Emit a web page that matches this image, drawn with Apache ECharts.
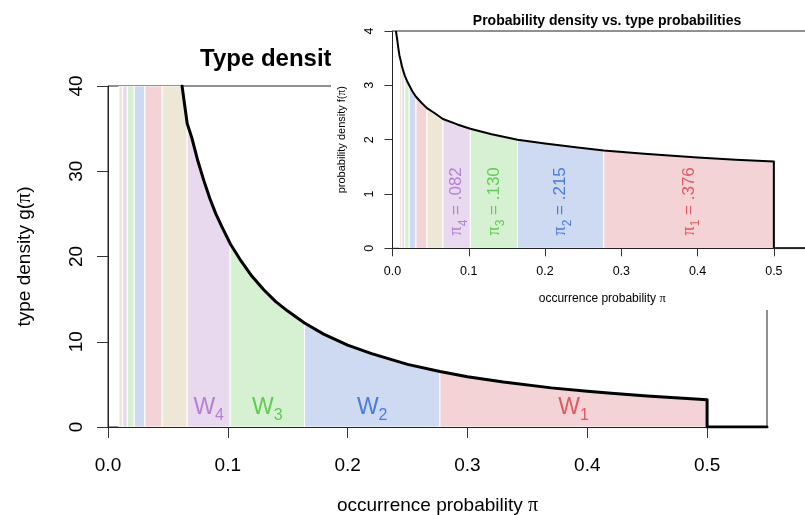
<!DOCTYPE html>
<html><head><meta charset="utf-8">
<script src="https://cdn.jsdelivr.net/npm/echarts@6/dist/echarts.min.js"></script>
<style>html,body{margin:0;padding:0;background:#fff}#c{width:805px;height:515px}</style>
</head><body><div id="c"></div>
<script>
// ---------- data ----------
// band edges on the occurrence-probability axis (shared by both panels)
const bandEdges = [0.0091, 0.0122, 0.0161, 0.0219, 0.0308, 0.0452, 0.0661, 0.102, 0.164, 0.277, 0.5];
// colour cycle index of each band (0 pink, 1 blue, 2 green, 3 purple, 4 tan)
const bandColorIdx = [4, 3, 2, 1, 0, 4, 3, 2, 1, 0];
// which type label each band carries (-1 none; 0 -> type 1, ...)
const bandLabelIdx = [-1, -1, -1, -1, -1, -1, 3, 2, 1, 0];
const typeNums = ['1', '2', '3', '4'];
const typeProbs = ['.376', '.215', '.130', '.082'];

// main panel: type density g(pi)
const gPi  = [0.0618, 0.0661, 0.07, 0.075, 0.08, 0.085, 0.09, 0.095, 0.102, 0.11, 0.12, 0.13, 0.14, 0.15, 0.164, 0.18, 0.2, 0.22, 0.25, 0.277, 0.3, 0.33, 0.37, 0.4, 0.42, 0.45, 0.47, 0.5];
const gVal = [40, 35.6, 33.9, 31.2, 28.9, 26.8, 25.0, 23.5, 21.5, 19.7, 17.7, 16.1, 14.7, 13.6, 12.2, 10.9, 9.6, 8.6, 7.35, 6.5, 5.9, 5.27, 4.59, 4.2, 3.95, 3.65, 3.45, 3.2];
// inset: probability density f(pi)
const fPi  = [0.0045, 0.006, 0.0075, 0.0091, 0.0105, 0.0122, 0.014, 0.0161, 0.019, 0.0219, 0.026, 0.0308, 0.038, 0.0452, 0.055, 0.0661, 0.085, 0.102, 0.13, 0.164, 0.2, 0.24, 0.277, 0.33, 0.4, 0.45, 0.5];
const fVal = [4.0, 3.86, 3.7, 3.55, 3.47, 3.36, 3.27, 3.18, 3.08, 3.0, 2.89, 2.79, 2.68, 2.58, 2.49, 2.38, 2.28, 2.2, 2.1, 2.0, 1.93, 1.86, 1.8, 1.74, 1.67, 1.63, 1.6];
// both densities are zero beyond pi = 0.5
const tailPi  = [0.5, 0.55];
const tailVal = [0, 0];

const xTicks = [0, 0.1, 0.2, 0.3, 0.4, 0.5];

// ---------- styles ----------
const FONT = "'Liberation Sans', Arial, Helvetica, sans-serif";
const SERIF = "'Liberation Serif', 'DejaVu Serif', serif";
const bandFills = ['#F3D3D5', '#CEDAF1', '#D6F0D2', '#E8D9EE', '#EFE7D5'];
const typeColors = ['#DF5A63', '#4A7BD9', '#5FCC52', '#B67FD3'];

function interp(xs, ys, x, top) {
  if (x <= xs[0]) return top;
  for (let i = 1; i < xs.length; i++) {
    if (x <= xs[i]) {
      const t = (x - xs[i - 1]) / (xs[i] - xs[i - 1]);
      return ys[i - 1] + t * (ys[i] - ys[i - 1]);
    }
  }
  return ys[ys.length - 1];
}

const bandData = [];
for (let i = 0; i < bandEdges.length - 1; i++) {
  bandData.push([bandEdges[i], bandEdges[i + 1], bandColorIdx[i], bandLabelIdx[i]]);
}

function bandRender(xs, ys, top, inset) {
  return function (params, api) {
    const a = api.value(0), b = api.value(1), ci = api.value(2), k = api.value(3);
    const pts = [api.coord([a, 0]), api.coord([a, interp(xs, ys, a, top)])];
    for (let i = 0; i < xs.length; i++) if (xs[i] > a && xs[i] < b) pts.push(api.coord([xs[i], ys[i]]));
    pts.push(api.coord([b, interp(xs, ys, b, top)]));
    pts.push(api.coord([b, 0]));
    const children = [{
      type: 'polygon', shape: { points: pts },
      style: { fill: bandFills[ci], stroke: '#ffffff', lineWidth: 1 }
    }];
    if (k >= 0) {
      const c = api.coord([(a + b) / 2, 0]);
      const col = typeColors[k];
      if (!inset) {
        children.push({
          type: 'text', x: c[0], y: c[1] - 19,
          style: {
            text: '{w|W}{s|' + typeNums[k] + '}',
            align: 'center', verticalAlign: 'middle',
            rich: {
              w: { fontSize: 23, fontFamily: FONT, fill: col, lineHeight: 32, verticalAlign: 'middle' },
              s: { fontSize: 16, fontFamily: FONT, fill: col, lineHeight: 16, verticalAlign: 'bottom' }
            }
          }
        });
      } else {
        children.push({
          type: 'text', x: c[0], y: c[1] - 47, rotation: Math.PI / 2,
          style: {
            text: '{p|\u03c0}{s|' + typeNums[k] + '}{t| = ' + typeProbs[k] + '}',
            align: 'center', verticalAlign: 'middle',
            rich: {
              p: { fontSize: 18, fontFamily: SERIF, fill: col, lineHeight: 26, verticalAlign: 'middle' },
              s: { fontSize: 12, fontFamily: FONT, fill: col, lineHeight: 12, verticalAlign: 'bottom' },
              t: { fontSize: 17, fontFamily: FONT, fill: col, lineHeight: 26, verticalAlign: 'middle' }
            }
          }
        });
      }
    }
    return { type: 'group', children: children };
  };
}

const mainCurve = gPi.map((p, i) => [p, gVal[i]]).concat(tailPi.map((p, i) => [p, tailVal[i]]));
const insetCurve = fPi.map((p, i) => [p, fVal[i]]).concat(tailPi.map((p, i) => [p, tailVal[i]]));

const chart = echarts.init(document.getElementById('c'), null, { renderer: 'canvas', width: 805, height: 515 });

function axisCommon(o) {
  return Object.assign({
    type: 'value',
    splitLine: { show: false },
    axisLine: { show: true, onZero: false, lineStyle: { color: '#222', width: 1 } }
  }, o);
}

const option = {
  animation: false,
  backgroundColor: '#ffffff',
  title: [
    { text: 'Type density', left: 200, top: 47, padding: 0, z: 1,
      textStyle: { fontFamily: FONT, fontSize: 24, fontWeight: 'bold', color: '#000' } },
    { text: 'Probability density vs. type probabilities', left: 602, textAlign: 'center', top: 9, z: 30,
      textStyle: { fontFamily: FONT, fontSize: 14, fontWeight: 'bold', color: '#000' } }
  ],
  graphic: [
    { type: 'rect', z: 10, silent: true, shape: { x: 331, y: 0, width: 474, height: 310 }, style: { fill: '#ffffff' } }
  ],
  grid: [
    { left: 108, top: 86, right: 38, bottom: 88, show: true, borderColor: '#222', borderWidth: 1, z: 0,
      containLabel: false, outerBoundsMode: 'none' },
    { left: 392.5, top: 31, right: -7, bottom: 266.7, show: true, borderColor: '#222', borderWidth: 1, z: 15,
      containLabel: false, outerBoundsMode: 'none' }
  ],
  xAxis: [
    axisCommon({
      gridIndex: 0, min: 0, max: 0.55, interval: 0.1, z: 3,
      axisTick: { show: true, length: 11, customValues: xTicks, lineStyle: { color: '#333' } },
      axisLabel: { customValues: xTicks, formatter: v => v.toFixed(1), margin: 29, fontSize: 19, fontFamily: FONT, color: '#000' },
      name: '{a|occurrence probability }{p|\u03c0}', nameLocation: 'middle', nameGap: 69,
      nameTextStyle: { rich: { a: { fontSize: 19, fontFamily: FONT, color: '#000' }, p: { fontSize: 20, fontFamily: SERIF, color: '#000' } } }
    }),
    axisCommon({
      gridIndex: 1, min: 0, max: 0.55, interval: 0.1, z: 18,
      axisTick: { show: true, length: 8, customValues: xTicks, lineStyle: { color: '#333' } },
      axisLabel: { customValues: xTicks, formatter: v => v.toFixed(1), margin: 17, fontSize: 12.5, fontFamily: FONT, color: '#000' },
      name: '{a|occurrence probability }{p|\u03c0}', nameLocation: 'middle', nameGap: 44,
      nameTextStyle: { rich: { a: { fontSize: 12, fontFamily: FONT, color: '#000' }, p: { fontSize: 12.5, fontFamily: SERIF, color: '#000' } } }
    })
  ],
  yAxis: [
    axisCommon({
      gridIndex: 0, min: 0, max: 40, interval: 10, z: 3,
      axisTick: { show: true, length: 11, lineStyle: { color: '#333' } },
      axisLabel: { rotate: 90, margin: 22, fontSize: 19, fontFamily: FONT, color: '#000' },
      name: '{a|type density g(}{p|\u03c0}{a|)}', nameLocation: 'middle', nameRotate: 90, nameGap: 73,
      nameTextStyle: { rich: { a: { fontSize: 19, fontFamily: FONT, color: '#000' }, p: { fontSize: 20, fontFamily: SERIF, color: '#000' } } }
    }),
    axisCommon({
      gridIndex: 1, min: 0, max: 4, interval: 1, z: 18,
      axisTick: { show: true, length: 8, lineStyle: { color: '#333' } },
      axisLabel: { rotate: 90, margin: 16, fontSize: 12.5, fontFamily: FONT, color: '#000' },
      name: '{a|probability density f(}{p|\u03c0}{a|)}', nameLocation: 'middle', nameRotate: 90, nameGap: 45,
      nameTextStyle: { rich: { a: { fontSize: 11, fontFamily: FONT, color: '#000' }, p: { fontSize: 11.5, fontFamily: SERIF, color: '#000' } } }
    })
  ],
  series: [
    { type: 'custom', xAxisIndex: 0, yAxisIndex: 0, z: 2, silent: true, clip: true,
      renderItem: bandRender(gPi, gVal, 40, false), data: bandData },
    { type: 'line', xAxisIndex: 0, yAxisIndex: 0, z: 4, silent: true, symbol: 'none', showSymbol: false,
      lineStyle: { color: '#000', width: 3, join: 'round', cap: 'round' }, data: mainCurve },
    { type: 'custom', xAxisIndex: 1, yAxisIndex: 1, z: 16, silent: true, clip: true,
      renderItem: bandRender(fPi, fVal, 4, true), data: bandData },
    { type: 'line', xAxisIndex: 1, yAxisIndex: 1, z: 17, silent: true, symbol: 'none', showSymbol: false,
      lineStyle: { color: '#000', width: 2, join: 'round' }, data: insetCurve }
  ]
};
chart.setOption(option);
</script>
</body></html>
